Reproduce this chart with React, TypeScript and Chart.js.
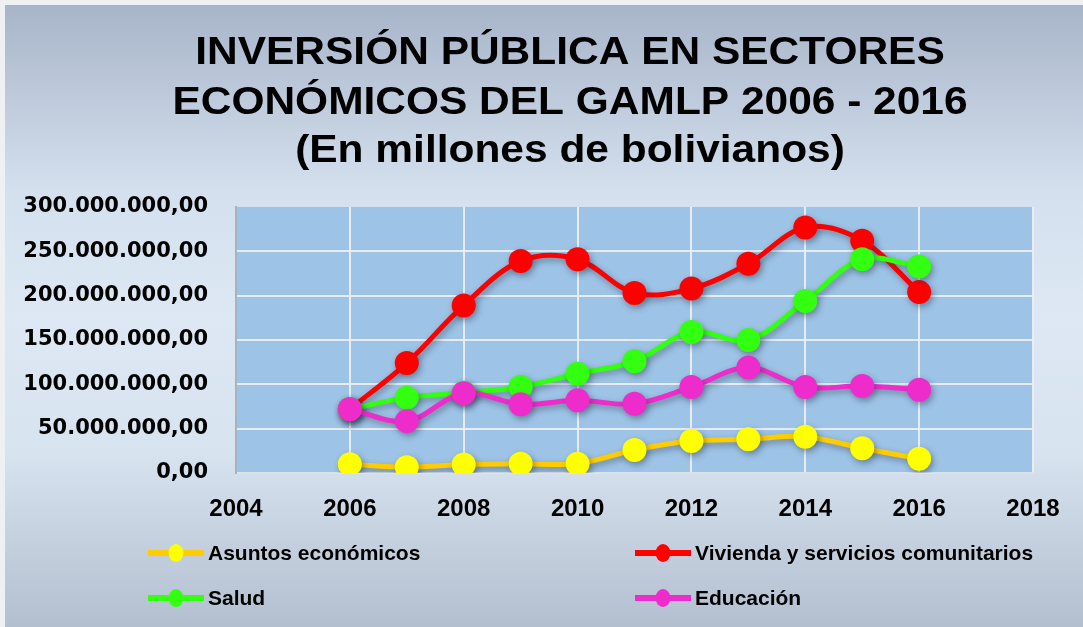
import React, { useEffect, useRef } from "react";
import { Chart, registerables } from "chart.js";

Chart.register(...registerables);

const years = [2006, 2007, 2008, 2009, 2010, 2011, 2012, 2013, 2014, 2015, 2016];
const asuntosEconomicos = [10000000, 6500000, 9500000, 10500000, 10500000, 26000000, 36000000, 38000000, 41000000, 28000000, 16000000];
const viviendaServicios = [72000000, 124000000, 189000000, 239000000, 241000000, 203000000, 208000000, 236000000, 277000000, 262000000, 204000000];
const salud = [72000000, 85000000, 90500000, 97000000, 112000000, 126000000, 159000000, 150000000, 194000000, 241000000, 233000000];
const educacion = [72000000, 58500000, 90000000, 77500000, 82000000, 78000000, 97000000, 119000000, 97000000, 98000000, 94000000];

const seriesLabels = ["Asuntos económicos", "Vivienda y servicios comunitarios", "Salud", "Educación"];
const titleLines = ["INVERSIÓN PÚBLICA EN SECTORES", "ECONÓMICOS DEL GAMLP 2006 - 2016", "(En millones de bolivianos)"];

const W = 1083;
const H = 627;

function fmt(v: number): string {
  const s = Math.round(v).toString().replace(/\B(?=(\d{3})+(?!\d))/g, ".");
  return s + ",00";
}

const bgPlugin = {
  id: "bgPlugin",
  beforeDraw(chart: any) {
    const ctx = chart.ctx;
    ctx.save();
    ctx.fillStyle = "#EEF0F3";
    ctx.fillRect(0, 0, W, H);
    const g = ctx.createLinearGradient(0, 5, 0, H);
    g.addColorStop(0, "#A8B5C9");
    g.addColorStop(0.3, "#D4E0EE");
    g.addColorStop(0.5, "#DDE8F4");
    g.addColorStop(0.72, "#D8E3F0");
    g.addColorStop(1, "#B3BECF");
    ctx.fillStyle = g;
    ctx.fillRect(5, 5, W - 5, H - 5);
    const a = chart.chartArea;
    ctx.fillStyle = "#9DC3E6";
    ctx.fillRect(a.left, a.top, a.right - a.left, a.bottom - a.top);
    ctx.restore();
  },
  beforeDatasetsDraw(chart: any) {
    const ctx = chart.ctx;
    ctx.save();
    ctx.shadowColor = "rgba(40,50,70,0.45)";
    ctx.shadowBlur = 6;
    ctx.shadowOffsetX = 2;
    ctx.shadowOffsetY = 3;
  },
  afterDatasetsDraw(chart: any) {
    chart.ctx.restore();
  },
  afterDraw(chart: any) {
    const ctx = chart.ctx;
    ctx.save();
    // title
    ctx.fillStyle = "#000";
    ctx.font = "bold 38.4px 'Liberation Sans'";
    ctx.textAlign = "center";
    ctx.textBaseline = "alphabetic";
    const baselines = [64, 114, 162];
    titleLines.forEach((t, i) => {
      ctx.save();
      ctx.translate(570, baselines[i]);
      ctx.scale(1.106, 1);
      ctx.fillText(t, 0, 0);
      ctx.restore();
    });
    // legend
    const items = [
      { x: 148, y: 553, ds: 0 },
      { x: 635, y: 553, ds: 1 },
      { x: 148, y: 598, ds: 2 },
      { x: 635, y: 598, ds: 3 },
    ];
    ctx.font = "bold 21px 'Liberation Sans'";
    ctx.textAlign = "left";
    ctx.textBaseline = "middle";
    items.forEach((it) => {
      const ds = chart.data.datasets[it.ds];
      ctx.strokeStyle = ds.borderColor;
      ctx.lineWidth = 6;
      ctx.beginPath();
      ctx.moveTo(it.x, it.y);
      ctx.lineTo(it.x + 56, it.y);
      ctx.stroke();
      ctx.fillStyle = ds.pointBackgroundColor;
      ctx.beginPath();
      ctx.ellipse(it.x + 28, it.y, 7.5, 9, 0, 0, Math.PI * 2);
      ctx.fill();
      ctx.fillStyle = "#000";
      ctx.fillText(ds.label, it.x + 60, it.y + 1);
    });
    ctx.restore();
  },
};

function pts(vals: number[]) {
  return years.map((y, i) => ({ x: y, y: vals[i] }));
}

export default function App() {
  const ref = useRef<HTMLCanvasElement | null>(null);
  useEffect(() => {
    if (!ref.current) return;
    const mk = (label: string, vals: number[], line: string, fill: string, order: number) => ({
      label,
      data: pts(vals),
      borderColor: line,
      backgroundColor: fill,
      pointBackgroundColor: fill,
      pointBorderColor: fill,
      pointRadius: 12,
      pointHoverRadius: 12,
      pointBorderWidth: 0,
      borderWidth: 5,
      tension: 0.35,
      order,
    });
    const chart = new Chart(ref.current, {
      type: "line",
      data: {
        datasets: [
          mk(seriesLabels[0], asuntosEconomicos, "#FFCC00", "#FFFF00", 4),
          mk(seriesLabels[1], viviendaServicios, "#FF0000", "#FF0000", 3),
          mk(seriesLabels[2], salud, "#33FF11", "#33FF11", 2),
          mk(seriesLabels[3], educacion, "#EE2CCB", "#EE2CCB", 1),
        ],
      },
      options: {
        responsive: false,
        devicePixelRatio: 1,
        animation: false,
        layout: { padding: { top: 207, right: 50, left: 0, bottom: 0 } },
        plugins: {
          legend: { display: false },
          title: { display: false },
          tooltip: { enabled: false },
        },
        scales: {
          x: {
            type: "linear",
            min: 2004,
            max: 2018,
            afterFit: (s: any) => {
              s.height = 154;
            },
            ticks: {
              stepSize: 2,
              padding: 22,
              color: "#000",
              font: { family: "'Liberation Sans'", weight: "bold", size: 24 },
              callback: (v: any) => String(v),
            },
            grid: {
              drawTicks: false,
              color: "rgba(235,238,242,0.95)",
              lineWidth: 2,
            },
            border: { color: "#DCE3EA", width: 2 },
          },
          y: {
            min: 0,
            max: 300000000,
            afterFit: (s: any) => {
              s.width = 236;
            },
            ticks: {
              stepSize: 50000000,
              padding: 28,
              color: "#000",
              font: { family: "'DejaVu Sans'", weight: "bold", size: 21 },
              callback: (v: any) => fmt(Number(v)),
            },
            grid: {
              drawTicks: false,
              color: (c: any) => (c.index === 6 ? "rgba(0,0,0,0)" : "rgba(235,238,242,0.95)"),
              lineWidth: 2,
            },
            border: { color: "#A9B2C0", width: 2 },
          },
        },
      },
      plugins: [bgPlugin],
    } as any);
    return () => chart.destroy();
  }, []);
  return (
    <div style={{ position: "absolute", left: 0, top: 0, width: W, height: H }}>
      <canvas ref={ref} width={W} height={H} style={{ display: "block", width: W, height: H }} />
    </div>
  );
}
